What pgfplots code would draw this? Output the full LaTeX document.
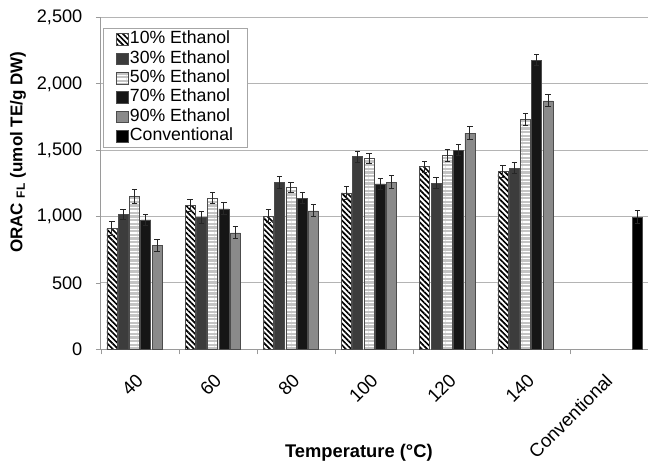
\documentclass[border=0pt]{standalone}
\usepackage{fontspec}
\setmainfont{Liberation Sans}
\usepackage{graphicx}
\usepackage{pgfplots}
\pgfplotsset{compat=1.18}
\usepackage{pgfplotstable}
\usetikzlibrary{patterns.meta}

\pgfplotstableread{
x y e
0 910 50
1 1083 43
2 1003 47
3 1178 47
4 1376 40
5 1338 45
}\tenE
\pgfplotstableread{
x y e
0 1015 35
1 995 45
2 1258 45
3 1451 40
4 1253 43
5 1366 42
}\thirtyE
\pgfplotstableread{
x y e
0 1152 50
1 1140 43
2 1220 40
3 1438 40
4 1459 45
5 1734 45
}\fiftyE
\pgfplotstableread{
x y e
0 975 40
1 1058 45
2 1138 43
3 1246 43
4 1501 42
5 2178 42
}\seventyE
\pgfplotstableread{
x y e
0 782 43
1 877 45
2 1043 45
3 1258 48
4 1629 47
5 1872 45
}\ninetyE
\pgfplotstableread{
x y e
6 995 50
}\conv

\definecolor{c30}{HTML}{3C3C3C}
\definecolor{c50}{HTML}{C4C4C4}
\definecolor{c70}{HTML}{161616}
\definecolor{c90}{HTML}{8A8A8A}
\definecolor{gridc}{HTML}{B4B4B4}
\definecolor{axc}{HTML}{9A9A9A}
\newcommand{\rl}[1]{\rotatebox{45}{\fontsize{11.2}{13}\selectfont #1}}

\begin{document}
\fontsize{10.9}{13}\selectfont
\begin{tikzpicture}
\begin{axis}[
  scale only axis,
  width=328.5pt, height=199.1pt,
  ybar=0.78pt, bar width=6pt,
  xmin=-0.5, xmax=6.5,
  ymin=0, ymax=2500,
  ytick={0,500,...,2500},
  scaled y ticks=false,
  /pgf/number format/assume math mode=true,
  /pgf/number format/1000 sep={,},
  xtick={0,...,6},
  xticklabels={\rl{40},\rl{60},\rl{80},\rl{100},\rl{120},\rl{140},\rl{Conventional}},
  minor xtick={-0.5,0.5,...,5.5},
  major x tick style={draw=none},
  minor x tick style={draw=axc, line width=0.5pt},
  minor tick length=3pt,
  major tick length=3pt,
  tick align=outside,
  y tick style={draw=axc, line width=0.5pt},
  axis x line*=bottom, axis y line*=left,
  axis line style={draw=axc, line width=0.6pt, -},
  ymajorgrids, grid style={draw=gridc, line width=0.6pt},
  xticklabel style={anchor=north east, inner sep=0pt, xshift=2.8pt, yshift=-10.8pt},
  yticklabel style={inner sep=0pt},
  yticklabel shift=8pt,
  xlabel={\bfseries\fontsize{11}{13}\selectfont Temperature (°C)},
  xlabel style={at={(axis description cs:0.471,-0.3125)}, anchor=center},
  ylabel={\bfseries\fontsize{10.2}{12}\selectfont ORAC \textsubscript{FL} (umol TE/g DW)},
  ylabel style={at={(axis description cs:-0.1515,0.594)}, anchor=center},
  legend style={at={(axis description cs:0.0037,0.9675)}, anchor=north west,
    draw=gray!70, line width=0.5pt, fill=white,
    font=\fontsize{10.6}{12}\selectfont,
    inner xsep=7.5pt, inner ysep=1pt, row sep=0.6pt,
    nodes={inner sep=1pt, text height=7pt, text depth=2pt}},
  legend cell align=left,
  legend image code/.code={\draw[#1, line width=0.4pt] (0pt,-3.5pt) rectangle (7pt,3.5pt);},
  error bars/y dir=both, error bars/y explicit,
  error bars/error bar style={line width=0.6pt, black!85},
  error bars/error mark options={rotate=90, mark size=1.6pt, line width=0.6pt, black!85},
  clip=false,
]
\addplot[draw=black!70, line width=0.4pt, fill=white,
  postaction={pattern={Lines[angle=-45,distance=2.3pt,line width=1pt]}, pattern color=black}]
  table[x=x, y=y, y error=e] {\tenE};
\addlegendentry{10\% Ethanol}
\addplot[draw=black!70, line width=0.4pt, fill=c30]
  table[x=x, y=y, y error=e] {\thirtyE};
\addlegendentry{30\% Ethanol}
\addplot[draw=black!70, line width=0.4pt, fill=c50,
  postaction={pattern={Lines[angle=0,distance=2.2pt,line width=0.7pt]}, pattern color=white}]
  table[x=x, y=y, y error=e] {\fiftyE};
\addlegendentry{50\% Ethanol}
\addplot[draw=black!70, line width=0.4pt, fill=c70]
  table[x=x, y=y, y error=e] {\seventyE};
\addlegendentry{70\% Ethanol}
\addplot[draw=black!70, line width=0.4pt, fill=c90]
  table[x=x, y=y, y error=e] {\ninetyE};
\addlegendentry{90\% Ethanol}
\addplot[draw=black!70, line width=0.4pt, fill=black]
  table[x=x, y=y, y error=e] {\conv};
\addlegendentry{Conventional}
\end{axis}
\pgfresetboundingbox
\path[use as bounding box] (-60.6pt,-68.8pt) rectangle (328.2pt,209.6pt);
\end{tikzpicture}
\end{document}
